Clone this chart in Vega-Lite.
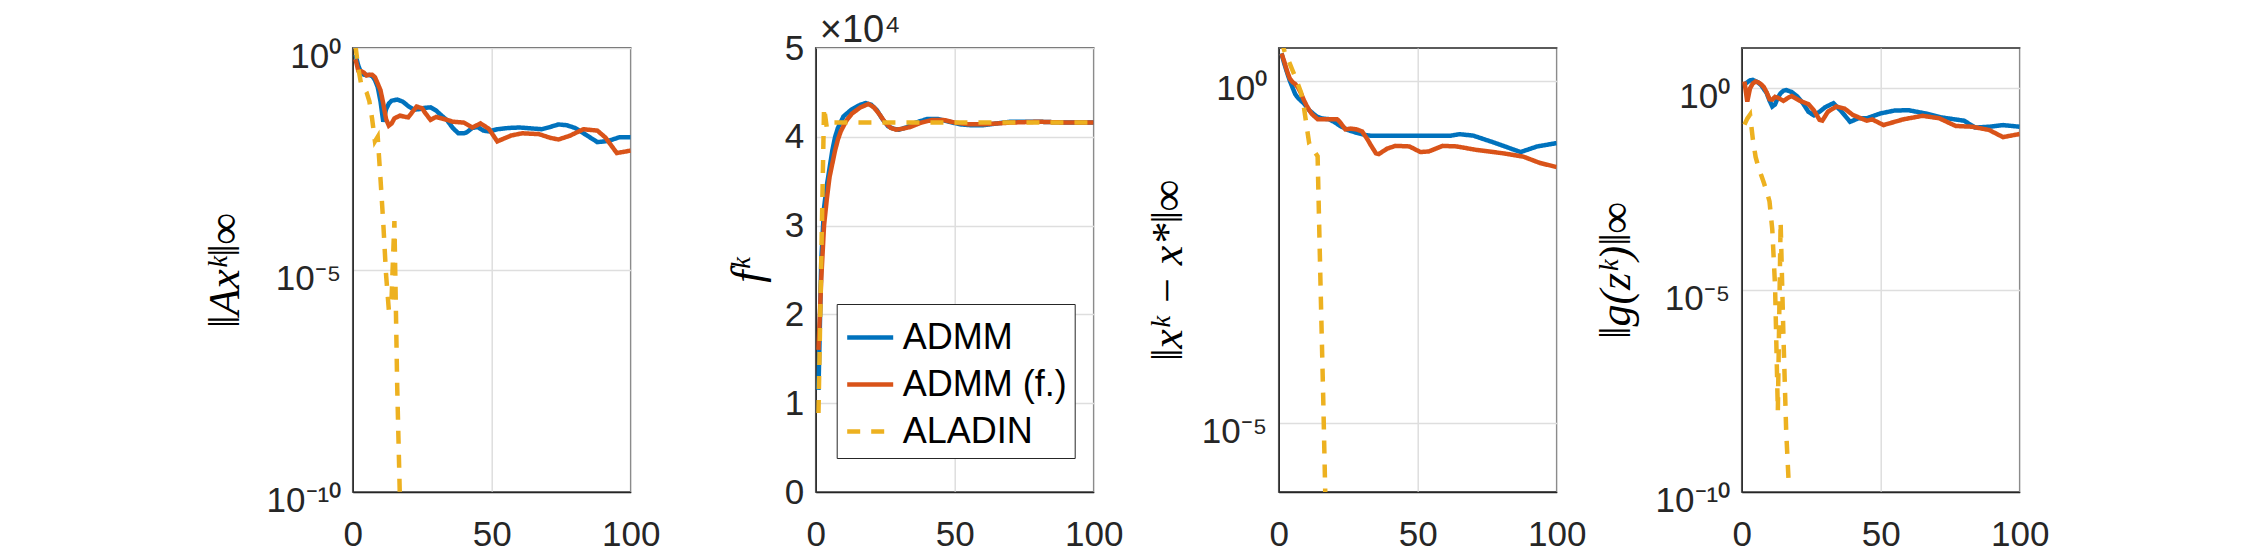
{
  "$schema": "https://vega.github.io/schema/vega-lite/v6.json",
  "autosize": {"type": "none"},
  "padding": {"left": 352.7, "top": 48, "right": 1895.3, "bottom": 507},
  "background": "white",
  "config": {
    "view": {"stroke": "#262626", "strokeWidth": 1.5},
    "axis": {
      "labelFont": "Liberation Sans",
      "labelFontSize": 35,
      "labelColor": "#262626",
      "labelFlush": false,
      "labelOverlap": false,
      "domainColor": "#262626",
      "domainWidth": 1.5,
      "gridColor": "#dedede",
      "gridWidth": 1.5,
      "ticks": false,
      "tickSize": 0,
      "titleFont": "Liberation Serif",
      "titleFontStyle": "italic",
      "titleFontWeight": "normal",
      "titleFontSize": 44,
      "titleColor": "#000000"
    },
    "axisX": {"labelPadding": 25},
    "axisY": {"labelPadding": 12, "titlePadding": 12},
    "line": {"strokeWidth": 4.5}
  },
  "datasets": {
    "ax": [
      {"m": "ADMM", "k": 1, "v": 0.71}, {"m": "ADMM", "k": 2, "v": 0.40}, {"m": "ADMM", "k": 3, "v": 0.28}, {"m": "ADMM", "k": 4, "v": 0.25},
      {"m": "ADMM", "k": 5, "v": 0.245}, {"m": "ADMM", "k": 6, "v": 0.245}, {"m": "ADMM", "k": 7, "v": 0.234}, {"m": "ADMM", "k": 8, "v": 0.19},
      {"m": "ADMM", "k": 9, "v": 0.132}, {"m": "ADMM", "k": 10, "v": 0.063}, {"m": "ADMM", "k": 11, "v": 0.0219}, {"m": "ADMM", "k": 12, "v": 0.0417},
      {"m": "ADMM", "k": 13, "v": 0.056}, {"m": "ADMM", "k": 14, "v": 0.065}, {"m": "ADMM", "k": 16, "v": 0.069}, {"m": "ADMM", "k": 18, "v": 0.062},
      {"m": "ADMM", "k": 20, "v": 0.049}, {"m": "ADMM", "k": 22, "v": 0.041}, {"m": "ADMM", "k": 24, "v": 0.042}, {"m": "ADMM", "k": 26, "v": 0.045},
      {"m": "ADMM", "k": 28, "v": 0.046}, {"m": "ADMM", "k": 30, "v": 0.039}, {"m": "ADMM", "k": 32, "v": 0.030}, {"m": "ADMM", "k": 34, "v": 0.0234},
      {"m": "ADMM", "k": 36, "v": 0.0158}, {"m": "ADMM", "k": 38, "v": 0.012}, {"m": "ADMM", "k": 40, "v": 0.012}, {"m": "ADMM", "k": 41, "v": 0.0126},
      {"m": "ADMM", "k": 43, "v": 0.0158}, {"m": "ADMM", "k": 45, "v": 0.0166}, {"m": "ADMM", "k": 47, "v": 0.0138}, {"m": "ADMM", "k": 49, "v": 0.0132},
      {"m": "ADMM", "k": 52, "v": 0.0148}, {"m": "ADMM", "k": 56, "v": 0.0158}, {"m": "ADMM", "k": 60, "v": 0.0162}, {"m": "ADMM", "k": 64, "v": 0.0155},
      {"m": "ADMM", "k": 68, "v": 0.0148}, {"m": "ADMM", "k": 71, "v": 0.0166}, {"m": "ADMM", "k": 74, "v": 0.019}, {"m": "ADMM", "k": 77, "v": 0.0182},
      {"m": "ADMM", "k": 80, "v": 0.0158}, {"m": "ADMM", "k": 84, "v": 0.011}, {"m": "ADMM", "k": 88, "v": 0.0076}, {"m": "ADMM", "k": 90, "v": 0.0078},
      {"m": "ADMM", "k": 92, "v": 0.0081}, {"m": "ADMM", "k": 96, "v": 0.0098}, {"m": "ADMM", "k": 100, "v": 0.0098},
      {"m": "ADMM (f.)", "k": 1, "v": 0.56}, {"m": "ADMM (f.)", "k": 2, "v": 0.31}, {"m": "ADMM (f.)", "k": 3, "v": 0.30}, {"m": "ADMM (f.)", "k": 4, "v": 0.28},
      {"m": "ADMM (f.)", "k": 5, "v": 0.24}, {"m": "ADMM (f.)", "k": 6, "v": 0.25}, {"m": "ADMM (f.)", "k": 7, "v": 0.25}, {"m": "ADMM (f.)", "k": 8, "v": 0.22},
      {"m": "ADMM (f.)", "k": 9, "v": 0.158}, {"m": "ADMM (f.)", "k": 10, "v": 0.112}, {"m": "ADMM (f.)", "k": 11, "v": 0.056}, {"m": "ADMM (f.)", "k": 12, "v": 0.025},
      {"m": "ADMM (f.)", "k": 13, "v": 0.0178}, {"m": "ADMM (f.)", "k": 14, "v": 0.020}, {"m": "ADMM (f.)", "k": 15, "v": 0.026}, {"m": "ADMM (f.)", "k": 17, "v": 0.030},
      {"m": "ADMM (f.)", "k": 19, "v": 0.028}, {"m": "ADMM (f.)", "k": 20, "v": 0.0275}, {"m": "ADMM (f.)", "k": 22, "v": 0.040}, {"m": "ADMM (f.)", "k": 23, "v": 0.048},
      {"m": "ADMM (f.)", "k": 25, "v": 0.0437}, {"m": "ADMM (f.)", "k": 26, "v": 0.035}, {"m": "ADMM (f.)", "k": 28, "v": 0.024}, {"m": "ADMM (f.)", "k": 30, "v": 0.028},
      {"m": "ADMM (f.)", "k": 32, "v": 0.026}, {"m": "ADMM (f.)", "k": 34, "v": 0.024}, {"m": "ADMM (f.)", "k": 36, "v": 0.0219}, {"m": "ADMM (f.)", "k": 40, "v": 0.0209},
      {"m": "ADMM (f.)", "k": 43, "v": 0.0162}, {"m": "ADMM (f.)", "k": 46, "v": 0.020}, {"m": "ADMM (f.)", "k": 49, "v": 0.0151}, {"m": "ADMM (f.)", "k": 52, "v": 0.0079},
      {"m": "ADMM (f.)", "k": 54, "v": 0.0089}, {"m": "ADMM (f.)", "k": 57, "v": 0.0107}, {"m": "ADMM (f.)", "k": 61, "v": 0.012}, {"m": "ADMM (f.)", "k": 67, "v": 0.0115},
      {"m": "ADMM (f.)", "k": 71, "v": 0.0095}, {"m": "ADMM (f.)", "k": 74, "v": 0.0087}, {"m": "ADMM (f.)", "k": 78, "v": 0.0105}, {"m": "ADMM (f.)", "k": 83, "v": 0.0148},
      {"m": "ADMM (f.)", "k": 88, "v": 0.0138}, {"m": "ADMM (f.)", "k": 91, "v": 0.0095}, {"m": "ADMM (f.)", "k": 95, "v": 0.0043}, {"m": "ADMM (f.)", "k": 100, "v": 0.0049},
      {"m": "ALADIN", "k": 1, "v": 1.12}, {"m": "ALADIN", "k": 2, "v": 0.355}, {"m": "ALADIN", "k": 3, "v": 0.158}, {"m": "ALADIN", "k": 4, "v": 0.126},
      {"m": "ALADIN", "k": 5, "v": 0.1}, {"m": "ALADIN", "k": 6, "v": 0.063}, {"m": "ALADIN", "k": 7, "v": 0.025}, {"m": "ALADIN", "k": 8, "v": 0.0079},
      {"m": "ALADIN", "k": 9, "v": 0.01}, {"m": "ALADIN", "k": 10, "v": 1.12e-3}, {"m": "ALADIN", "k": 11, "v": 1.12e-4}, {"m": "ALADIN", "k": 12, "v": 7.9e-6},
      {"m": "ALADIN", "k": 13, "v": 1.26e-6}, {"m": "ALADIN", "k": 14, "v": 2.5e-6}, {"m": "ALADIN", "k": 15, "v": 1.26e-4}, {"m": "ALADIN", "k": 16, "v": 2.5e-8},
      {"m": "ALADIN", "k": 17, "v": 6.3e-11}
    ],
    "f": [
      {"m": "ADMM", "k": 1, "v": 11500}, {"m": "ADMM", "k": 2, "v": 26000}, {"m": "ADMM", "k": 3, "v": 32000}, {"m": "ADMM", "k": 4, "v": 34500},
      {"m": "ADMM", "k": 5, "v": 36500}, {"m": "ADMM", "k": 6, "v": 38500}, {"m": "ADMM", "k": 7, "v": 40000}, {"m": "ADMM", "k": 8, "v": 41000},
      {"m": "ADMM", "k": 10, "v": 42300}, {"m": "ADMM", "k": 13, "v": 43100}, {"m": "ADMM", "k": 16, "v": 43600}, {"m": "ADMM", "k": 18, "v": 43800},
      {"m": "ADMM", "k": 20, "v": 43600}, {"m": "ADMM", "k": 22, "v": 43000}, {"m": "ADMM", "k": 24, "v": 42000}, {"m": "ADMM", "k": 26, "v": 41200},
      {"m": "ADMM", "k": 28, "v": 40900}, {"m": "ADMM", "k": 30, "v": 40800}, {"m": "ADMM", "k": 33, "v": 41100}, {"m": "ADMM", "k": 36, "v": 41600},
      {"m": "ADMM", "k": 40, "v": 42000}, {"m": "ADMM", "k": 44, "v": 42000}, {"m": "ADMM", "k": 48, "v": 41700}, {"m": "ADMM", "k": 52, "v": 41400},
      {"m": "ADMM", "k": 56, "v": 41300}, {"m": "ADMM", "k": 60, "v": 41300}, {"m": "ADMM", "k": 65, "v": 41500}, {"m": "ADMM", "k": 70, "v": 41700},
      {"m": "ADMM", "k": 75, "v": 41700}, {"m": "ADMM", "k": 80, "v": 41700}, {"m": "ADMM", "k": 90, "v": 41600}, {"m": "ADMM", "k": 100, "v": 41600},
      {"m": "ADMM (f.)", "k": 1, "v": 16000}, {"m": "ADMM (f.)", "k": 2, "v": 24000}, {"m": "ADMM (f.)", "k": 3, "v": 30000}, {"m": "ADMM (f.)", "k": 4, "v": 33000},
      {"m": "ADMM (f.)", "k": 5, "v": 35500}, {"m": "ADMM (f.)", "k": 6, "v": 37000}, {"m": "ADMM (f.)", "k": 7, "v": 38500}, {"m": "ADMM (f.)", "k": 8, "v": 39700},
      {"m": "ADMM (f.)", "k": 9, "v": 40600}, {"m": "ADMM (f.)", "k": 11, "v": 41800}, {"m": "ADMM (f.)", "k": 13, "v": 42600}, {"m": "ADMM (f.)", "k": 16, "v": 43300},
      {"m": "ADMM (f.)", "k": 19, "v": 43700}, {"m": "ADMM (f.)", "k": 21, "v": 43300}, {"m": "ADMM (f.)", "k": 23, "v": 42500}, {"m": "ADMM (f.)", "k": 25, "v": 41600},
      {"m": "ADMM (f.)", "k": 27, "v": 41000}, {"m": "ADMM (f.)", "k": 29, "v": 40800}, {"m": "ADMM (f.)", "k": 31, "v": 40900}, {"m": "ADMM (f.)", "k": 34, "v": 41100},
      {"m": "ADMM (f.)", "k": 38, "v": 41600}, {"m": "ADMM (f.)", "k": 42, "v": 41900}, {"m": "ADMM (f.)", "k": 46, "v": 41900}, {"m": "ADMM (f.)", "k": 50, "v": 41600},
      {"m": "ADMM (f.)", "k": 55, "v": 41400}, {"m": "ADMM (f.)", "k": 60, "v": 41400}, {"m": "ADMM (f.)", "k": 70, "v": 41600}, {"m": "ADMM (f.)", "k": 80, "v": 41700},
      {"m": "ADMM (f.)", "k": 90, "v": 41600}, {"m": "ADMM (f.)", "k": 100, "v": 41600},
      {"m": "ALADIN", "k": 1, "v": 8900}, {"m": "ALADIN", "k": 2, "v": 26000}, {"m": "ALADIN", "k": 3, "v": 43300}, {"m": "ALADIN", "k": 4, "v": 41000},
      {"m": "ALADIN", "k": 5, "v": 41400}, {"m": "ALADIN", "k": 6, "v": 41600}, {"m": "ALADIN", "k": 20, "v": 41600}, {"m": "ALADIN", "k": 40, "v": 41600},
      {"m": "ALADIN", "k": 60, "v": 41600}, {"m": "ALADIN", "k": 80, "v": 41600}, {"m": "ALADIN", "k": 100, "v": 41600}
    ],
    "xerr": [
      {"m": "ADMM", "k": 1, "v": 2.5}, {"m": "ADMM", "k": 2, "v": 1.78}, {"m": "ADMM", "k": 3, "v": 1.32}, {"m": "ADMM", "k": 4, "v": 1.0},
      {"m": "ADMM", "k": 5, "v": 0.79}, {"m": "ADMM", "k": 6, "v": 0.63}, {"m": "ADMM", "k": 7, "v": 0.56}, {"m": "ADMM", "k": 8, "v": 0.51},
      {"m": "ADMM", "k": 9, "v": 0.47}, {"m": "ADMM", "k": 11, "v": 0.37}, {"m": "ADMM", "k": 13, "v": 0.316}, {"m": "ADMM", "k": 14, "v": 0.295},
      {"m": "ADMM", "k": 16, "v": 0.28}, {"m": "ADMM", "k": 18, "v": 0.275}, {"m": "ADMM", "k": 20, "v": 0.25}, {"m": "ADMM", "k": 22, "v": 0.22},
      {"m": "ADMM", "k": 25, "v": 0.19}, {"m": "ADMM", "k": 28, "v": 0.174}, {"m": "ADMM", "k": 31, "v": 0.162}, {"m": "ADMM", "k": 33, "v": 0.158},
      {"m": "ADMM", "k": 62, "v": 0.158}, {"m": "ADMM", "k": 65, "v": 0.166}, {"m": "ADMM", "k": 70, "v": 0.158}, {"m": "ADMM", "k": 78, "v": 0.123},
      {"m": "ADMM", "k": 87, "v": 0.091}, {"m": "ADMM", "k": 93, "v": 0.11}, {"m": "ADMM", "k": 100, "v": 0.123},
      {"m": "ADMM (f.)", "k": 1, "v": 2.5}, {"m": "ADMM (f.)", "k": 2, "v": 1.9}, {"m": "ADMM (f.)", "k": 3, "v": 1.38}, {"m": "ADMM (f.)", "k": 4, "v": 1.07},
      {"m": "ADMM (f.)", "k": 5, "v": 0.955}, {"m": "ADMM (f.)", "k": 6, "v": 0.89}, {"m": "ADMM (f.)", "k": 7, "v": 0.79}, {"m": "ADMM (f.)", "k": 8, "v": 0.66},
      {"m": "ADMM (f.)", "k": 9, "v": 0.525}, {"m": "ADMM (f.)", "k": 10, "v": 0.437}, {"m": "ADMM (f.)", "k": 11, "v": 0.37}, {"m": "ADMM (f.)", "k": 12, "v": 0.324},
      {"m": "ADMM (f.)", "k": 14, "v": 0.275}, {"m": "ADMM (f.)", "k": 18, "v": 0.275}, {"m": "ADMM (f.)", "k": 21, "v": 0.275}, {"m": "ADMM (f.)", "k": 22, "v": 0.25},
      {"m": "ADMM (f.)", "k": 24, "v": 0.195}, {"m": "ADMM (f.)", "k": 26, "v": 0.2}, {"m": "ADMM (f.)", "k": 28, "v": 0.195}, {"m": "ADMM (f.)", "k": 30, "v": 0.182},
      {"m": "ADMM (f.)", "k": 32, "v": 0.138}, {"m": "ADMM (f.)", "k": 33, "v": 0.117}, {"m": "ADMM (f.)", "k": 35, "v": 0.087}, {"m": "ADMM (f.)", "k": 36, "v": 0.085},
      {"m": "ADMM (f.)", "k": 39, "v": 0.102}, {"m": "ADMM (f.)", "k": 42, "v": 0.112}, {"m": "ADMM (f.)", "k": 47, "v": 0.11}, {"m": "ADMM (f.)", "k": 51, "v": 0.091},
      {"m": "ADMM (f.)", "k": 54, "v": 0.093}, {"m": "ADMM (f.)", "k": 59, "v": 0.112}, {"m": "ADMM (f.)", "k": 64, "v": 0.11}, {"m": "ADMM (f.)", "k": 71, "v": 0.098},
      {"m": "ADMM (f.)", "k": 81, "v": 0.087}, {"m": "ADMM (f.)", "k": 88, "v": 0.078}, {"m": "ADMM (f.)", "k": 94, "v": 0.063}, {"m": "ADMM (f.)", "k": 100, "v": 0.055},
      {"m": "ALADIN", "k": 1, "v": 4.0}, {"m": "ALADIN", "k": 2, "v": 2.75}, {"m": "ALADIN", "k": 3, "v": 2.19}, {"m": "ALADIN", "k": 4, "v": 1.78},
      {"m": "ALADIN", "k": 5, "v": 1.41}, {"m": "ALADIN", "k": 6, "v": 1.12}, {"m": "ALADIN", "k": 7, "v": 0.87}, {"m": "ALADIN", "k": 8, "v": 0.68},
      {"m": "ALADIN", "k": 9, "v": 0.43}, {"m": "ALADIN", "k": 10, "v": 0.224}, {"m": "ALADIN", "k": 11, "v": 0.12}, {"m": "ALADIN", "k": 12, "v": 0.105},
      {"m": "ALADIN", "k": 13, "v": 0.091}, {"m": "ALADIN", "k": 14, "v": 0.079}, {"m": "ALADIN", "k": 15, "v": 1.26e-3}, {"m": "ALADIN", "k": 16, "v": 2.5e-5},
      {"m": "ALADIN", "k": 17, "v": 3.2e-7}
    ],
    "g": [
      {"m": "ADMM", "k": 1, "v": 1.26}, {"m": "ADMM", "k": 2, "v": 1.41}, {"m": "ADMM", "k": 3, "v": 1.58}, {"m": "ADMM", "k": 4, "v": 1.62},
      {"m": "ADMM", "k": 5, "v": 1.51}, {"m": "ADMM", "k": 6, "v": 1.38}, {"m": "ADMM", "k": 7, "v": 1.2}, {"m": "ADMM", "k": 8, "v": 0.955},
      {"m": "ADMM", "k": 9, "v": 0.76}, {"m": "ADMM", "k": 10, "v": 0.5}, {"m": "ADMM", "k": 11, "v": 0.355}, {"m": "ADMM", "k": 12, "v": 0.4},
      {"m": "ADMM", "k": 13, "v": 0.59}, {"m": "ADMM", "k": 14, "v": 0.76}, {"m": "ADMM", "k": 15, "v": 0.87}, {"m": "ADMM", "k": 16, "v": 0.91},
      {"m": "ADMM", "k": 18, "v": 0.81}, {"m": "ADMM", "k": 20, "v": 0.63}, {"m": "ADMM", "k": 22, "v": 0.43}, {"m": "ADMM", "k": 24, "v": 0.263},
      {"m": "ADMM", "k": 26, "v": 0.214}, {"m": "ADMM", "k": 28, "v": 0.263}, {"m": "ADMM", "k": 30, "v": 0.34}, {"m": "ADMM", "k": 33, "v": 0.43},
      {"m": "ADMM", "k": 36, "v": 0.263}, {"m": "ADMM", "k": 39, "v": 0.148}, {"m": "ADMM", "k": 42, "v": 0.182}, {"m": "ADMM", "k": 45, "v": 0.182},
      {"m": "ADMM", "k": 50, "v": 0.24}, {"m": "ADMM", "k": 55, "v": 0.282}, {"m": "ADMM", "k": 60, "v": 0.288}, {"m": "ADMM", "k": 66, "v": 0.24},
      {"m": "ADMM", "k": 72, "v": 0.19}, {"m": "ADMM", "k": 80, "v": 0.158}, {"m": "ADMM", "k": 84, "v": 0.107}, {"m": "ADMM", "k": 89, "v": 0.112},
      {"m": "ADMM", "k": 94, "v": 0.123}, {"m": "ADMM", "k": 100, "v": 0.112},
      {"m": "ADMM (f.)", "k": 1, "v": 1.48}, {"m": "ADMM (f.)", "k": 2, "v": 0.47}, {"m": "ADMM (f.)", "k": 3, "v": 1.0}, {"m": "ADMM (f.)", "k": 4, "v": 1.32},
      {"m": "ADMM (f.)", "k": 5, "v": 1.48}, {"m": "ADMM (f.)", "k": 6, "v": 1.41}, {"m": "ADMM (f.)", "k": 7, "v": 1.26}, {"m": "ADMM (f.)", "k": 8, "v": 1.07},
      {"m": "ADMM (f.)", "k": 9, "v": 0.79}, {"m": "ADMM (f.)", "k": 10, "v": 0.54}, {"m": "ADMM (f.)", "k": 11, "v": 0.525}, {"m": "ADMM (f.)", "k": 12, "v": 0.617},
      {"m": "ADMM (f.)", "k": 13, "v": 0.59}, {"m": "ADMM (f.)", "k": 15, "v": 0.49}, {"m": "ADMM (f.)", "k": 17, "v": 0.60}, {"m": "ADMM (f.)", "k": 18, "v": 0.646},
      {"m": "ADMM (f.)", "k": 21, "v": 0.49}, {"m": "ADMM (f.)", "k": 24, "v": 0.407}, {"m": "ADMM (f.)", "k": 26, "v": 0.282}, {"m": "ADMM (f.)", "k": 28, "v": 0.166},
      {"m": "ADMM (f.)", "k": 29, "v": 0.158}, {"m": "ADMM (f.)", "k": 31, "v": 0.263}, {"m": "ADMM (f.)", "k": 34, "v": 0.355}, {"m": "ADMM (f.)", "k": 37, "v": 0.316},
      {"m": "ADMM (f.)", "k": 40, "v": 0.219}, {"m": "ADMM (f.)", "k": 45, "v": 0.158}, {"m": "ADMM (f.)", "k": 47, "v": 0.17}, {"m": "ADMM (f.)", "k": 51, "v": 0.123},
      {"m": "ADMM (f.)", "k": 58, "v": 0.17}, {"m": "ADMM (f.)", "k": 65, "v": 0.209}, {"m": "ADMM (f.)", "k": 71, "v": 0.182}, {"m": "ADMM (f.)", "k": 77, "v": 0.117},
      {"m": "ADMM (f.)", "k": 83, "v": 0.112}, {"m": "ADMM (f.)", "k": 89, "v": 0.093}, {"m": "ADMM (f.)", "k": 94, "v": 0.062}, {"m": "ADMM (f.)", "k": 100, "v": 0.074},
      {"m": "ALADIN", "k": 1, "v": 0.126}, {"m": "ALADIN", "k": 2, "v": 0.178}, {"m": "ALADIN", "k": 3, "v": 0.224}, {"m": "ALADIN", "k": 4, "v": 0.056},
      {"m": "ALADIN", "k": 5, "v": 0.02}, {"m": "ALADIN", "k": 6, "v": 0.0112}, {"m": "ALADIN", "k": 7, "v": 7.1e-3}, {"m": "ALADIN", "k": 8, "v": 4.5e-3},
      {"m": "ALADIN", "k": 9, "v": 2.8e-3}, {"m": "ALADIN", "k": 10, "v": 1.58e-3}, {"m": "ALADIN", "k": 11, "v": 3.2e-4}, {"m": "ALADIN", "k": 12, "v": 1.26e-5},
      {"m": "ALADIN", "k": 13, "v": 1e-8}, {"m": "ALADIN", "k": 14, "v": 5e-4}, {"m": "ALADIN", "k": 15, "v": 7.9e-7}, {"m": "ALADIN", "k": 16, "v": 3.2e-9},
      {"m": "ALADIN", "k": 17, "v": 1.26e-10}
    ]
  },
  "spacing": 185,
  "bounds": "flush",
  "resolve": {
    "scale": {"x": "independent", "y": "independent"},
    "legend": {"color": "independent", "strokeDash": "independent"}
  },
  "hconcat": [
    {
      "width": 278,
      "height": 444,
      "data": {"name": "ax"},
      "mark": {"type": "line", "clip": true, "strokeWidth": 4.5},
      "encoding": {
        "x": {"field": "k", "type": "quantitative", "scale": {"domain": [0, 100], "nice": false}, "axis": {"title": null, "values": [0, 50, 100]}},
        "y": {
          "field": "v", "type": "quantitative",
          "scale": {"type": "log", "domain": [1e-10, 1], "nice": false},
          "axis": {"title": "‖Axᵏ‖∞", "titlePadding": 19, "values": [1e-10, 1e-5, 1], "labelOffset": 8,
                   "labelExpr": "datum.value > 0.1 ? '10⁰' : datum.value > 1e-7 ? '10⁻⁵' : '10⁻¹⁰'"}
        },
        "color": {"field": "m", "type": "nominal", "scale": {"domain": ["ADMM", "ADMM (f.)", "ALADIN"], "range": ["#0072BD", "#D95319", "#EDB120"]}, "legend": null},
        "strokeDash": {"field": "m", "type": "nominal", "scale": {"domain": ["ADMM", "ADMM (f.)", "ALADIN"], "range": [[1, 0], [1, 0], [13, 11]]}, "legend": null}
      }
    },
    {
      "width": 278,
      "height": 444,
      "title": {"text": "×10⁴", "anchor": "start", "frame": "group", "font": "Liberation Sans", "fontSize": 38, "fontWeight": "normal", "color": "#262626", "offset": -19, "dx": 4},
      "data": {"name": "f"},
      "mark": {"type": "line", "clip": true, "strokeWidth": 4.5},
      "encoding": {
        "x": {"field": "k", "type": "quantitative", "scale": {"domain": [0, 100], "nice": false}, "axis": {"title": null, "values": [0, 50, 100]}},
        "y": {
          "field": "v", "type": "quantitative",
          "scale": {"domain": [0, 50000], "nice": false},
          "axis": {"title": "fᵏ", "titlePadding": 14, "values": [0, 10000, 20000, 30000, 40000, 50000], "labelExpr": "datum.value / 10000"}
        },
        "color": {
          "field": "m", "type": "nominal",
          "scale": {"domain": ["ADMM", "ADMM (f.)", "ALADIN"], "range": ["#0072BD", "#D95319", "#EDB120"]},
          "legend": {"title": null, "orient": "none", "legendX": 21, "legendY": 256, "symbolType": "stroke", "symbolStrokeWidth": 4.5, "symbolSize": 2116,
                     "labelFont": "Liberation Sans", "labelFontSize": 36, "labelColor": "#000000", "labelOffset": 7, "labelLimit": 400,
                     "strokeColor": "#262626", "fillColor": "#ffffff", "padding": 8, "rowPadding": 3}
        },
        "strokeDash": {
          "field": "m", "type": "nominal",
          "scale": {"domain": ["ADMM", "ADMM (f.)", "ALADIN"], "range": [[1, 0], [1, 0], [13, 11]]},
          "legend": {"title": null, "orient": "none", "legendX": 21, "legendY": 256, "symbolType": "stroke", "symbolStrokeWidth": 4.5, "symbolSize": 2116,
                     "labelFont": "Liberation Sans", "labelFontSize": 36, "labelColor": "#000000", "labelOffset": 7, "labelLimit": 400,
                     "strokeColor": "#262626", "fillColor": "#ffffff", "padding": 8, "rowPadding": 3}
        }
      }
    },
    {
      "width": 278,
      "height": 444,
      "data": {"name": "xerr"},
      "mark": {"type": "line", "clip": true, "strokeWidth": 4.5},
      "encoding": {
        "x": {"field": "k", "type": "quantitative", "scale": {"domain": [0, 100], "nice": false}, "axis": {"title": null, "values": [0, 50, 100]}},
        "y": {
          "field": "v", "type": "quantitative",
          "scale": {"type": "log", "domain": [1e-6, 3], "nice": false},
          "axis": {"title": "‖xᵏ − x*‖∞", "titlePadding": 11, "values": [1e-5, 1], "labelOffset": 8,
                   "labelExpr": "datum.value > 0.1 ? '10⁰' : '10⁻⁵'"}
        },
        "color": {"field": "m", "type": "nominal", "scale": {"domain": ["ADMM", "ADMM (f.)", "ALADIN"], "range": ["#0072BD", "#D95319", "#EDB120"]}, "legend": null},
        "strokeDash": {"field": "m", "type": "nominal", "scale": {"domain": ["ADMM", "ADMM (f.)", "ALADIN"], "range": [[1, 0], [1, 0], [13, 11]]}, "legend": null}
      }
    },
    {
      "width": 278,
      "height": 444,
      "data": {"name": "g"},
      "mark": {"type": "line", "clip": true, "strokeWidth": 4.5},
      "encoding": {
        "x": {"field": "k", "type": "quantitative", "scale": {"domain": [0, 100], "nice": false}, "axis": {"title": null, "values": [0, 50, 100]}},
        "y": {
          "field": "v", "type": "quantitative",
          "scale": {"type": "log", "domain": [1e-10, 10], "nice": false},
          "axis": {"title": "‖g(zᵏ)‖∞", "titlePadding": 17, "values": [1e-10, 1e-5, 1], "labelOffset": 8,
                   "labelExpr": "datum.value > 0.1 ? '10⁰' : datum.value > 1e-7 ? '10⁻⁵' : '10⁻¹⁰'"}
        },
        "color": {"field": "m", "type": "nominal", "scale": {"domain": ["ADMM", "ADMM (f.)", "ALADIN"], "range": ["#0072BD", "#D95319", "#EDB120"]}, "legend": null},
        "strokeDash": {"field": "m", "type": "nominal", "scale": {"domain": ["ADMM", "ADMM (f.)", "ALADIN"], "range": [[1, 0], [1, 0], [13, 11]]}, "legend": null}
      }
    }
  ]
}
